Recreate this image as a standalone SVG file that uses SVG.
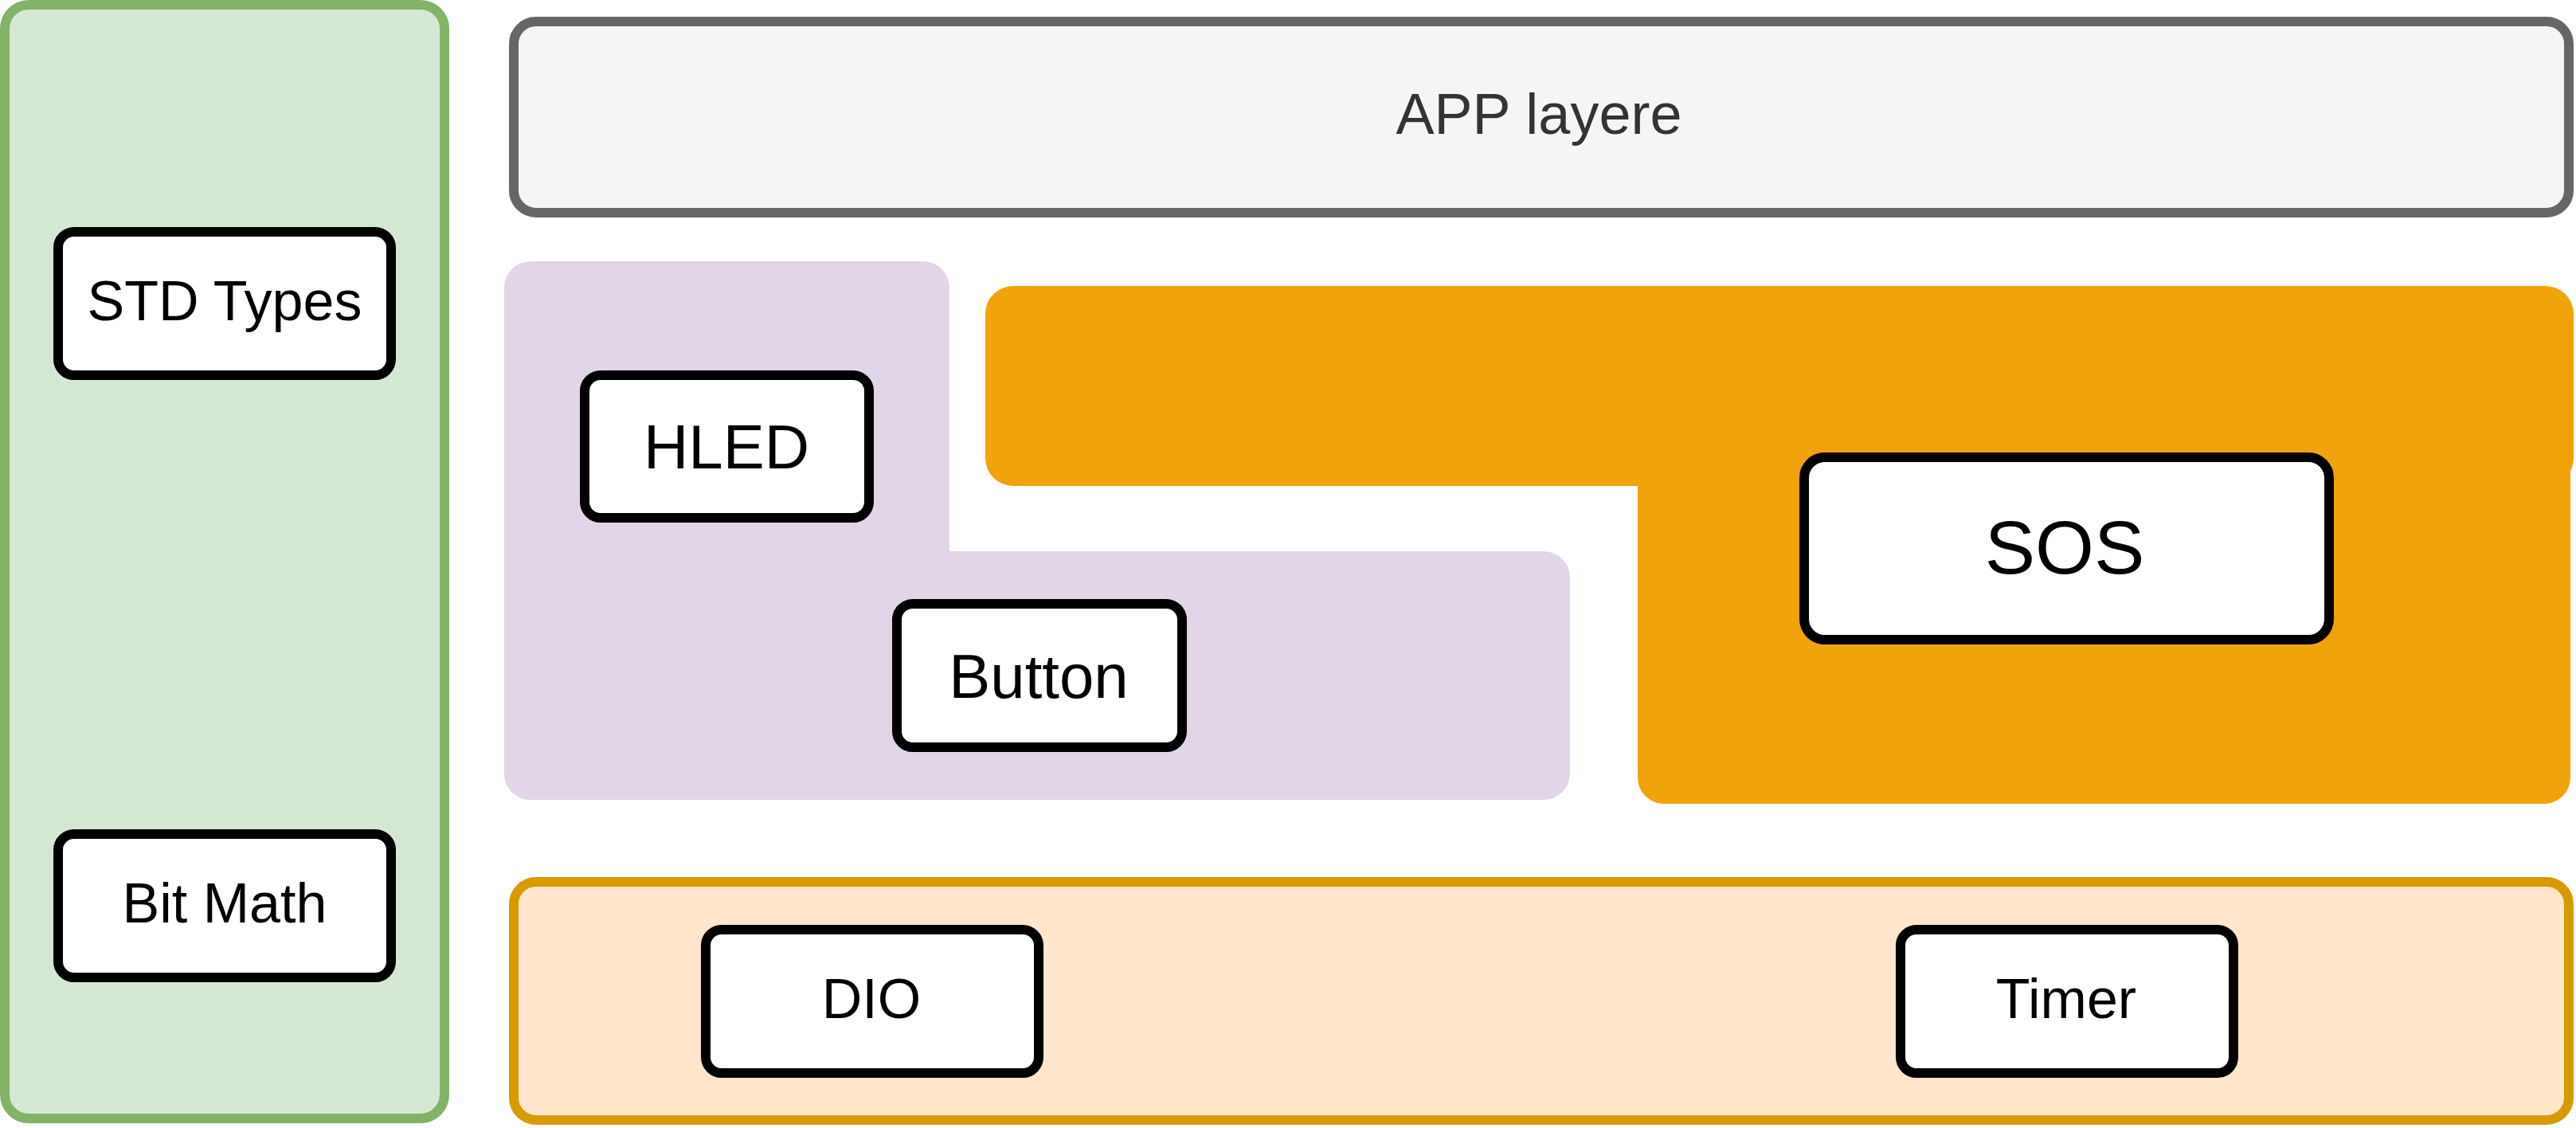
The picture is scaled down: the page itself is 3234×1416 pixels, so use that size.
<svg xmlns="http://www.w3.org/2000/svg" width="3234" height="1416" viewBox="0 0 3234 1416">
<style>
  .lbl { font-family: "Liberation Sans", Arial, sans-serif; text-anchor: middle; fill: #000000; }
  .node { fill: #ffffff; stroke: #000000; stroke-width: 12; }
  .f70 { font-size: 70px; }
  .f78 { font-size: 78px; }
</style>
<rect x="0" y="0" width="3234" height="1416" fill="#ffffff"/>

<g id="common-layer">
  <rect x="6" y="6" width="552" height="1398" rx="30" ry="30" fill="#d5e8d4" stroke="#82b366" stroke-width="12"/>
</g>

<g id="app-layer">
  <rect x="645" y="27" width="2580" height="240" rx="28" ry="28" fill="#f5f5f5" stroke="#666666" stroke-width="12"/>
  <text x="1932" y="168" class="lbl" style="font-size:72px;fill:#333333">APP layere</text>
</g>

<g id="hal-layer">
  <rect x="633" y="328" width="559" height="676" rx="33" ry="33" fill="#e1d5e7"/>
  <rect x="633" y="692" width="1338" height="312" rx="33" ry="33" fill="#e1d5e7"/>
</g>

<g id="service-layer">
  <rect x="2056" y="540" width="1171" height="469" rx="33" ry="33" fill="#f0a30a"/>
  <rect x="1237" y="359" width="1994" height="251" rx="35" ry="35" fill="#f0a30a"/>
</g>

<g id="mcal-layer">
  <rect x="645" y="1107" width="2580" height="299" rx="28" ry="28" fill="#ffe6cc" stroke="#d79b00" stroke-width="12"/>
</g>

<g id="connectors"></g>

<g id="std-types">
  <rect class="node" x="73" y="291" width="418" height="180" rx="20" ry="20"/>
  <text x="282" y="402" class="lbl f70">STD Types</text>
</g>

<g id="bit-math">
  <rect class="node" x="73" y="1047" width="418" height="180" rx="20" ry="20"/>
  <text x="282" y="1158" class="lbl f70">Bit Math</text>
</g>

<g id="hled">
  <rect class="node" x="734" y="471" width="357" height="179" rx="20" ry="20"/>
  <text x="912" y="588" class="lbl f78">HLED</text>
</g>

<g id="button">
  <rect class="node" x="1126" y="758" width="358" height="180" rx="20" ry="20"/>
  <text x="1304" y="876" class="lbl f78">Button</text>
</g>

<g id="sos">
  <rect class="node" x="2265" y="574" width="659" height="229" rx="26" ry="26"/>
  <text x="2592" y="720" class="lbl" style="font-size:95px">SOS</text>
</g>

<g id="dio">
  <rect class="node" x="886" y="1167" width="418" height="180" rx="20" ry="20"/>
  <text x="1094" y="1278" class="lbl f70">DIO</text>
</g>

<g id="timer">
  <rect class="node" x="2386" y="1167" width="418" height="180" rx="20" ry="20"/>
  <text x="2594" y="1278" class="lbl f70">Timer</text>
</g>
</svg>
